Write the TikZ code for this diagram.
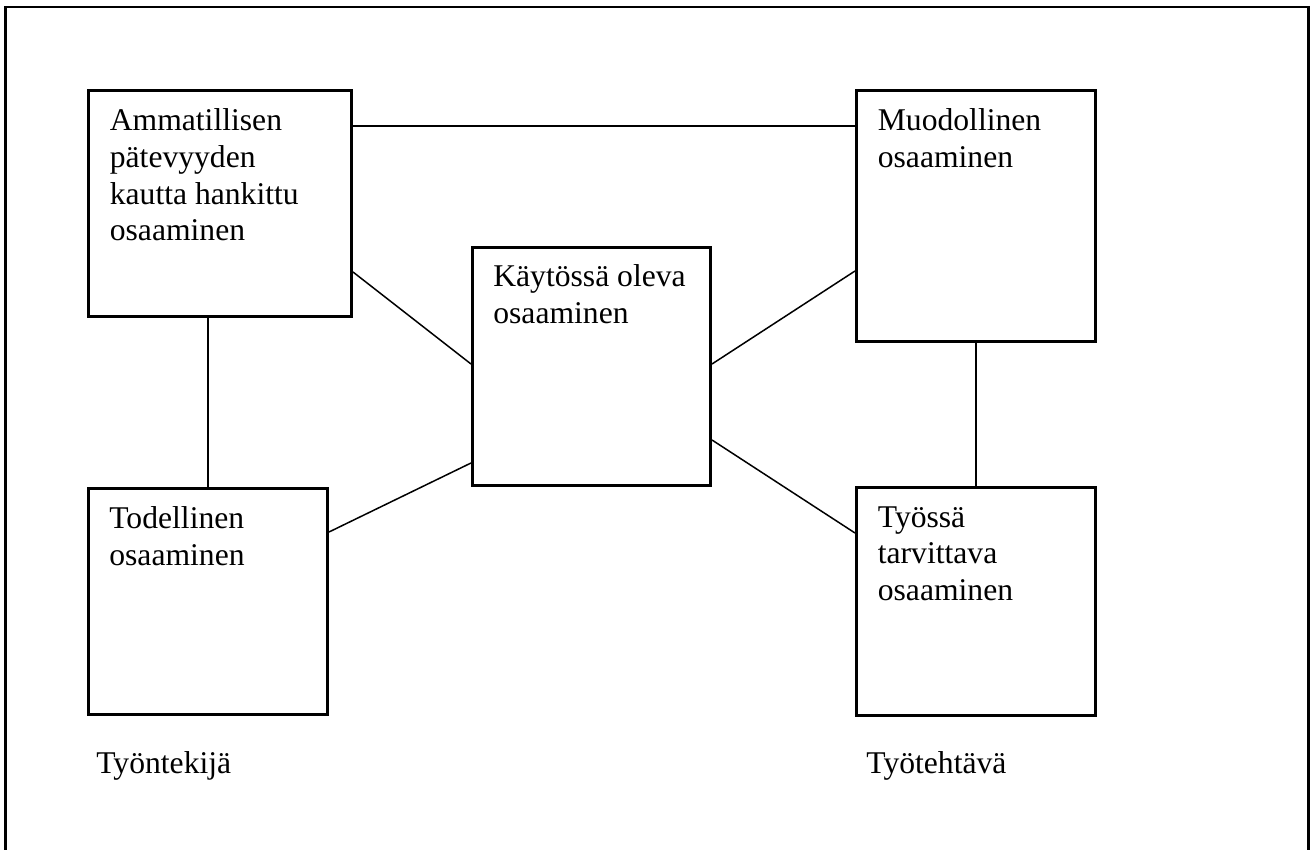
\documentclass[tikz,border=0pt]{standalone}
\usepackage{fontspec}
\setmainfont{Liberation Serif}
\usepackage{tikz}

\begin{document}
\begin{tikzpicture}[x=0.2mm, y=-0.2mm,
        box/.style={draw, line width=0.6mm, inner sep=0pt},
        lbl/.style={anchor=north west, align=left, inner sep=0pt,
            font=\fontsize{18pt}{20.9pt}\selectfont, execute at begin node=\strut},
        link/.style={line width=0.3mm}]
        \useasboundingbox (0,0) rectangle (1311,850);
        \draw[line width=0.5mm] (5.5,7) rectangle (1308.5,853);
        % boxes
        \node[box, minimum width=52.6mm, minimum height=45.2mm] (amm) at (220,203.5) {};
        \node[box, minimum width=47.8mm, minimum height=50.2mm] (muo) at (976,216) {};
        \node[box, minimum width=47.6mm, minimum height=47.6mm] (kay) at (591.5,366.5) {};
        \node[box, minimum width=47.8mm, minimum height=45.2mm] (tod) at (208,601.5) {};
        \node[box, minimum width=47.8mm, minimum height=45.6mm] (tyo) at (976,601.5) {};
        % texts
        \node[lbl] (ammtxt) at ([shift={(4.5mm,-3.9mm)}]amm.north west) {Ammatillisen\\pätevyyden\\kautta hankittu\\osaaminen};
        \node[lbl] (muotxt) at ([shift={(4.5mm,-3.9mm)}]muo.north west) {Muodollinen\\osaaminen};
        \node[lbl] (kaytxt) at ([shift={(4.4mm,-3.6mm)}]kay.north west) {Käytössä oleva\\osaaminen};
        \node[lbl] (todtxt) at ([shift={(4.4mm,-3.8mm)}]tod.north west) {Todellinen\\osaaminen};
        \node[lbl] (tyotxt) at ([shift={(4.5mm,-4mm)}]tyo.north west) {Työssä\\tarvittava\\osaaminen};
        \node[lbl, anchor=base west] (tyontekija) at (96,773) {Työntekijä};
        \node[lbl, anchor=base west] (tyotehtava) at (866,773) {Työtehtävä};
        % links
        \draw[link] ([yshift=15.5mm]amm.east) -- ([yshift=15.5mm]amm.east -| muo.west);
        \draw[link] ([yshift=-13.7mm]amm.east) -- ([yshift=0.5mm]kay.west);
        \draw[link] (tod.north) -- (tod.north |- amm.south);
        \draw[link] ([yshift=13.9mm]tod.east) -- ([yshift=-19.3mm]kay.west);
        \draw[link] ([yshift=0.5mm]kay.east) -- ([yshift=-11mm]muo.west);
        \draw[link] ([yshift=-14.7mm]kay.east) -- ([yshift=13.7mm]tyo.west);
        \draw[link] (muo.south) -- (tyo.north);
    \end{tikzpicture}
\end{document}
